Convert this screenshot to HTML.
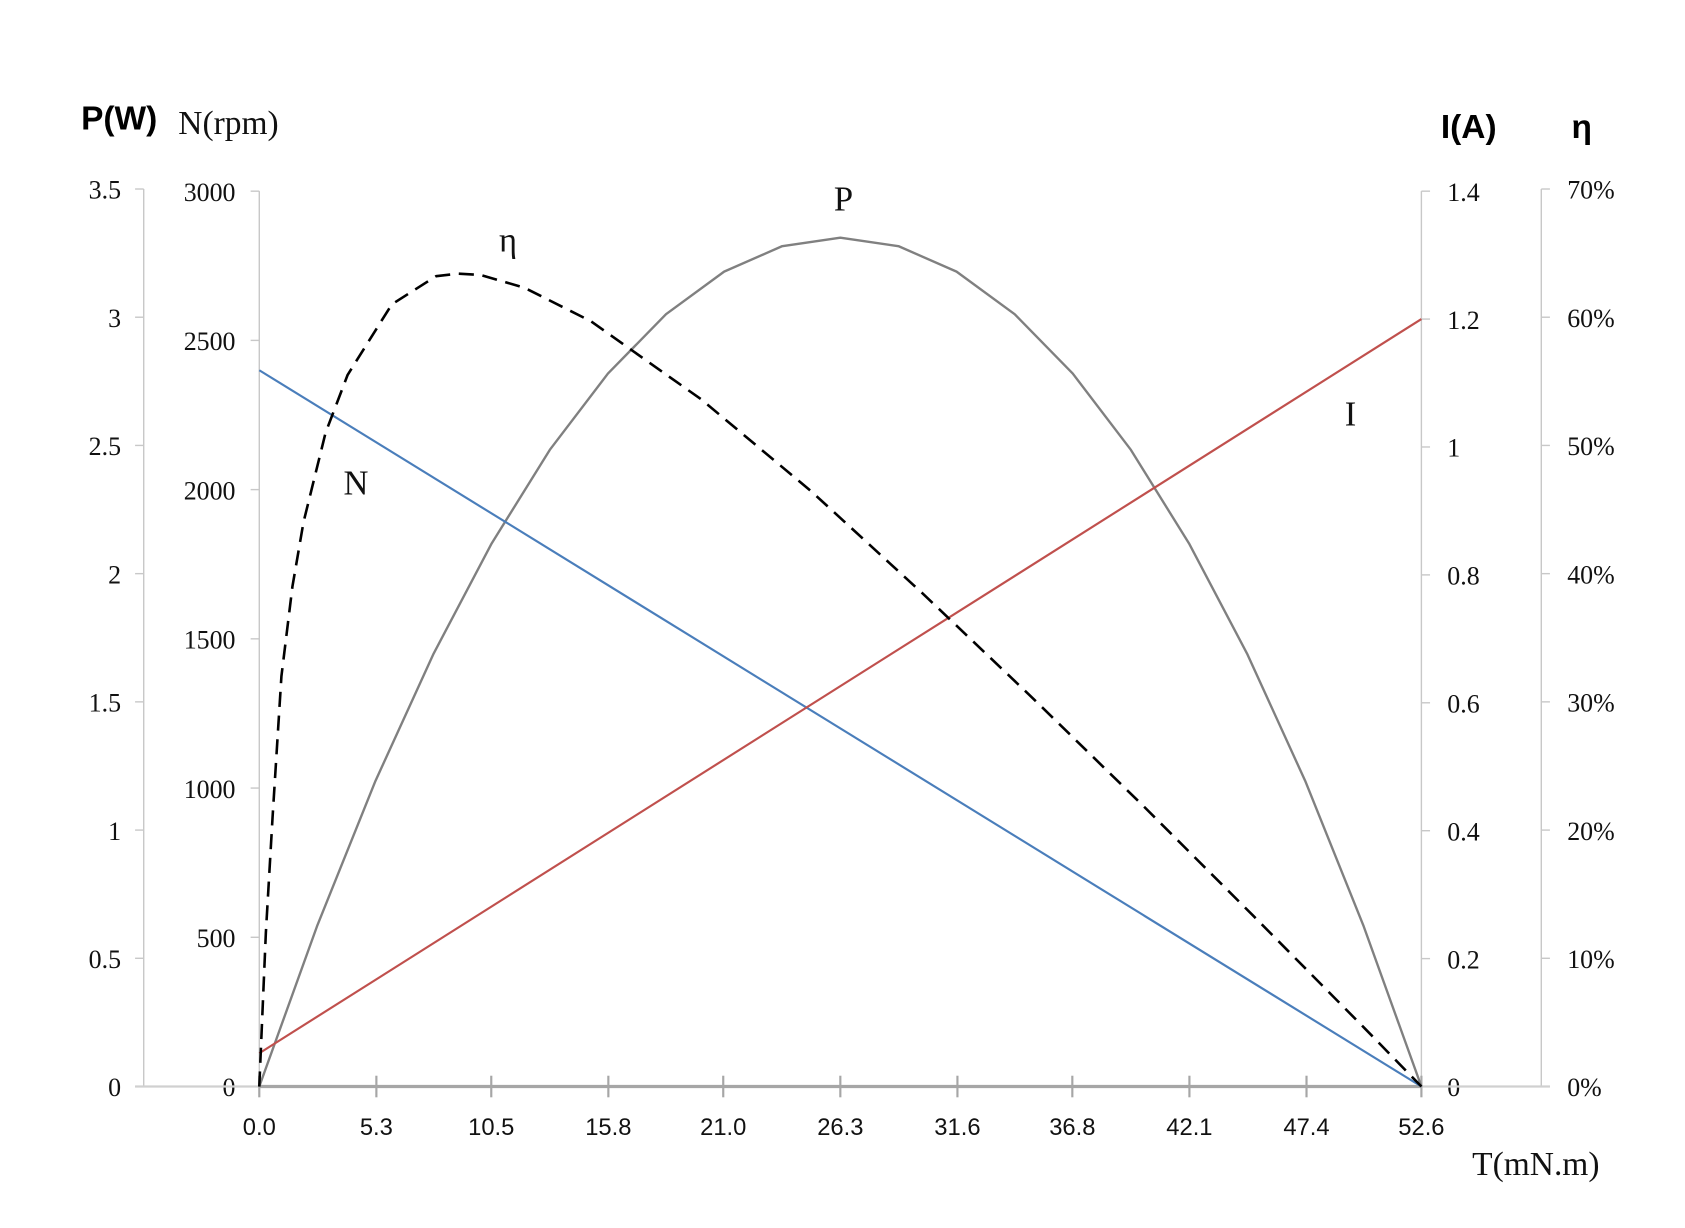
<!DOCTYPE html>
<html><head><meta charset="utf-8"><style>
html,body{margin:0;padding:0;background:#fff;}
svg{display:block;}
.t{font-family:"Liberation Serif","Noto Serif CJK SC",serif;font-size:24px;fill:#111;}
.s{font-family:"Liberation Sans",sans-serif;font-size:22px;fill:#111;}
</style></head><body>
<svg id="chart" width="1685" height="1228" viewBox="0 0 1560 1137" xmlns="http://www.w3.org/2000/svg">
<text x="75" y="120" font-family="Liberation Sans,sans-serif" font-weight="bold" font-size="31">P(W)</text>
<text x="165" y="124" class="t" font-size="31" style="font-size:31px">N(rpm)</text>
<text x="1334" y="128" font-family="Liberation Sans,sans-serif" font-weight="bold" font-size="31">I(A)</text>
<text x="1455" y="128" font-family="Liberation Sans,sans-serif" font-weight="bold" font-size="31">η</text>
<text x="1363" y="1088" class="t" style="font-size:31px">T(mN.m)</text>
<g id="axes"></g>
<g id="series"></g>
<text x="772" y="195" class="t" style="font-size:32px">P</text>
<text x="462" y="233" class="t" style="font-size:32px">η</text>
<text x="318" y="458" class="t" style="font-size:32px">N</text>
<text x="1245" y="394" class="t" style="font-size:32px">I</text>
</svg>
<script>
const xTicks=["0.0","5.3","10.5","15.8","21.0","26.3","31.6","36.8","42.1","47.4","52.6"];
const pTicks=["0","0.5","1","1.5","2","2.5","3","3.5"];
const nTicks=["0","500","1000","1500","2000","2500","3000"];
const iTicks=["0","0.2","0.4","0.6","0.8","1","1.2","1.4"];
const etaTicks=["0%","10%","20%","30%","40%","50%","60%","70%"];
const torque=[0,2.63,5.26,7.89,10.52,13.15,15.78,18.41,21.04,23.67,26.3,28.93,31.56,34.19,36.82,39.45,42.08,44.71,47.34,49.97,52.6];
const powerW=[0,0.629,1.192,1.688,2.118,2.483,2.780,3.012,3.178,3.277,3.31,3.277,3.178,3.012,2.780,2.483,2.118,1.688,1.192,0.629,0];
const speedT=[0,52.6];
const speedRpm=[2400,0];
const currentA=[0.052,1.2];
const etaT=[0,0.3,0.6,1,1.5,2,3,4,6,8,9,10,12,15,20,25,30,35,40,45,50,52.6];
const etaPct=[0,12,21,32,39,44,51,55.5,61,63.2,63.4,63.3,62.3,59.7,53.6,46.4,38.5,30.3,21.9,13.3,4.6,0];
const X0=240,X1=1316,YB=1006;
const xs=t=>X0+(t/52.6)*(X1-X0);
const yP=v=>YB-(v/3.5)*(YB-175);
const yN=v=>YB-(v/3000)*(YB-177);
const yI=v=>YB-(v/1.4)*(YB-177);
const yE=v=>YB-(v/70)*(YB-175);
const NS="http://www.w3.org/2000/svg";
const axes=document.getElementById('axes'),ser=document.getElementById('series');
function mk(tag,attrs,parent){const e=document.createElementNS(NS,tag);for(const k in attrs)e.setAttribute(k,attrs[k]);parent.appendChild(e);return e;}
function vaxis(x,top,ticks,yf,side,lx,anchor,name){
  const l=mk('line',{x1:x,x2:x,y1:top,y2:YB,stroke:'#c8c8c8','stroke-width':1.3},axes);
  
  
  ticks.forEach(t=>{const v=parseFloat(t);const y=yf(v);
    const tk=mk('line',{x1:x,x2:x+side*8,y1:y,y2:y,stroke:'#c8c8c8','stroke-width':1.3},axes);
    
    
    const tx=mk('text',{x:lx,y:y+9,'text-anchor':anchor,class:'t'},axes);tx.textContent=t;
    
    
  });
}
vaxis(133,175,pTicks,yP,-1,112,'end','power-axis');
vaxis(240,177,nTicks,yN,-1,218,'end','speed-axis');
vaxis(1316,177,iTicks,yI,1,1340,'start','current-axis');
vaxis(1427,175,etaTicks,yE,1,1451,'start','efficiency-axis');
const pb=mk('line',{x1:125,x2:1435,y1:YB,y2:YB,stroke:'#d0d0d0','stroke-width':2},axes);


const xb=mk('line',{x1:X0,x2:X1,y1:YB,y2:YB,stroke:'#a6a6a6','stroke-width':3},axes);


xTicks.forEach(t=>{const x=xs(parseFloat(t));
  const tk=mk('line',{x1:x,x2:x,y1:YB-10,y2:YB+10,stroke:'#a6a6a6','stroke-width':2},axes);
  
  
  const tx=mk('text',{x:x,y:YB+45,'text-anchor':'middle',class:'s'},axes);tx.textContent=t;
  
  
});
function poly(tx,ty,xf,yf,attrs,name){
  const pts=tx.map((t,i)=>xf(t).toFixed(1)+','+yf(ty[i]).toFixed(1)).join(' ');
  const p=mk('polyline',Object.assign({points:pts,fill:'none'},attrs),ser);
  
  
}
poly(torque,powerW,xs,yP,{stroke:'#808080','stroke-width':2.2,'stroke-linejoin':'round'},'power-curve');
poly(speedT,speedRpm,xs,yN,{stroke:'#4a7ebb','stroke-width':2},'speed-line');
poly(speedT,currentA,xs,yI,{stroke:'#c0504d','stroke-width':2},'current-line');
poly(etaT,etaPct,xs,yE,{stroke:'#000','stroke-width':2.4,'stroke-dasharray':'14 8','stroke-linejoin':'round'},'efficiency-curve');
</script>
</body></html>
